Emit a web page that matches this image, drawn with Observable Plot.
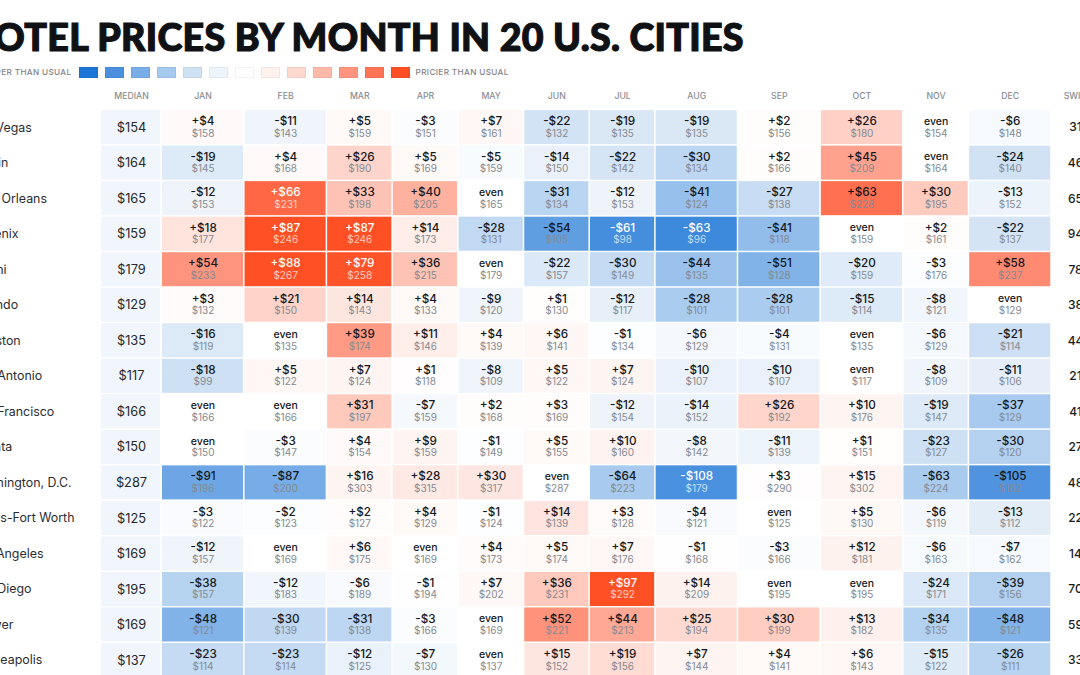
<!DOCTYPE html>
<html><head><meta charset="utf-8">
<script src="https://cdn.jsdelivr.net/npm/d3@7"></script>
<script src="https://cdn.jsdelivr.net/npm/@observablehq/plot@0.6"></script>
<style>
html,body{margin:0;padding:0;background:#fff;overflow:hidden;width:1080px;height:675px}
#title{position:absolute;left:-35px;top:13px;margin:0;font:900 37.6px/48px Lato,sans-serif;letter-spacing:.3px;color:#0f1115;white-space:nowrap;-webkit-text-stroke:1.2px #0f1115}
#legend{position:absolute;left:0;top:67px;height:10.5px;width:1080px}
#legend i{position:absolute;top:0;height:10.5px;width:19px;box-shadow:inset 0 0 0 1px rgba(0,0,0,.05)}
#legend span{position:absolute;top:0;font:500 8.2px/10.5px Inter,sans-serif;letter-spacing:.35px;color:#7f8287;white-space:nowrap}
#chart{position:absolute;left:0;top:85px}
svg{display:block}
</style></head><body>
<h1 id="title"></h1><div id="legend"></div><div id="chart"></div>
<script>
const titleText = "HOTEL PRICES BY MONTH IN 20 U.S. CITIES";
const cheaperLabel = "CHEAPER THAN USUAL";
const pricierLabel = "PRICIER THAN USUAL";
const medianHeader = "MEDIAN";
const swingHeader = "SWING";
const months = ["JAN","FEB","MAR","APR","MAY","JUN","JUL","AUG","SEP","OCT","NOV","DEC"];
const cities = ["Las Vegas","Austin","New Orleans","Phoenix","Miami","Orlando","Houston","San Antonio","San Francisco","Atlanta","Washington, D.C.","Dallas-Fort Worth","Los Angeles","San Diego","Denver","Minneapolis"];
const medians = [154,164,165,159,179,129,135,117,166,150,287,125,169,195,169,137];
const swings = [31,46,65,94,78,38,44,21,41,27,48,22,14,70,59,33];
const lasVegas = [158,143,159,151,161,132,135,135,156,180,154,148];
const austin = [145,168,190,169,159,150,142,134,166,209,164,140];
const newOrleans = [153,231,198,205,165,134,153,124,138,228,195,152];
const phoenix = [177,246,246,173,131,105,98,96,118,159,161,137];
const miami = [233,267,258,215,179,157,149,135,128,159,176,237];
const orlando = [132,150,143,133,120,130,117,101,101,114,121,129];
const houston = [119,135,174,146,139,141,134,129,131,135,129,114];
const sanAntonio = [99,122,124,118,109,122,124,107,107,117,109,106];
const sanFrancisco = [166,166,197,159,168,169,154,152,192,176,147,129];
const atlanta = [150,147,154,159,149,155,160,142,139,151,127,120];
const washington = [196,200,303,315,317,287,223,179,290,302,224,182];
const dallas = [122,123,127,129,124,139,128,121,125,130,119,112];
const losAngeles = [157,169,175,169,173,174,176,168,166,181,163,162];
const sanDiego = [157,183,189,194,202,231,292,209,195,195,171,156];
const denver = [121,139,138,166,169,221,213,194,199,182,135,121];
const minneapolis = [114,114,125,130,137,152,156,144,141,143,122,111];
const prices = [lasVegas,austin,newOrleans,phoenix,miami,orlando,houston,sanAntonio,sanFrancisco,atlanta,washington,dallas,losAngeles,sanDiego,denver,minneapolis];

// colour key: share above or below the median, and the 13 swatches
const keyStep = 0.075;
const keySteps = d3.range(-6,7).map(i => i*keyStep);
const keyColors = ["#1b76d8","#4a90de","#78ade7","#a6c9ee","#cfe1f4","#eef4fb","#ffffff","#fef1ee","#ffd8cf","#ffb9a9","#ff957f","#ff7356","#ff4f24"];

// table layout: column widths in page units
const wide = 82.6, narrow = 65.7, gap = 1.5;
const colWidths = [wide,wide,narrow,narrow,narrow,narrow,narrow,wide,wide,wide,narrow,wide];
const tableLeft = 161.2, medianLeft = 101, medianRight = 160.2, medianCentre = 131, swingCentre = 1081, swingHeadCentre = 1078, labelLeft = -29;
let edge = tableLeft;
const colEdges = colWidths.map(w => { const e = [edge, edge + w]; edge += w; return e; });

const cells = cities.flatMap((city,r) => months.map((m,c) => {
  const price = prices[r][c], delta = price - medians[r], pct = delta / medians[r];
  return {city, month:m, price, delta, pct,
    x1: colEdges[c][0] + gap/2, x2: colEdges[c][1] - gap/2, xc: (colEdges[c][0]+colEdges[c][1])/2,
    label: delta === 0 ? "even" : (delta > 0 ? "+$" : "-$") + Math.abs(delta),
    light: pct < -0.37 || pct > 0.39};
}));
const rows = cities.map((city,r) => ({city, median:medians[r], swing:swings[r]}));
const heads = [...months.map((m,c) => ({m, xc: cells[c].xc})), {m:medianHeader, xc:medianCentre}, {m:swingHeader, xc:swingHeadCentre}];

document.getElementById("title").textContent = titleText;
const legend = document.getElementById("legend");
const left = document.createElement("span");
left.textContent = cheaperLabel; left.style.right = (1080-71.5)+"px"; legend.append(left);
keyColors.forEach((col,i) => { const s = document.createElement("i"); s.style.left = (79+i*26)+"px"; s.style.background = col; legend.append(s); });
const right = document.createElement("span");
right.textContent = pricierLabel; right.style.left = "415.6px"; legend.append(right);

const rowStep = 35.62, rowsTop = 23.6, svgHeight = 590;
const fontNum = "Inter, sans-serif";

const chart = Plot.plot({
  width:1080, height:svgHeight, margin:0,
  style:{background:"transparent", overflow:"hidden"},
  x:{type:"linear", domain:[0,1080], range:[0,1080], axis:null},
  y:{type:"band", domain:cities, range:[rowsTop, rowsTop + rowStep*cities.length], padding:0.042, round:false, axis:null},
  color:{type:"linear", domain:keySteps, range:keyColors, clamp:true, interpolate:"rgb"},
  marks:[
    Plot.text(heads,{x:"xc", frameAnchor:"top", dy:11, lineAnchor:"middle", text:"m", fontFamily:fontNum, fontSize:8.7, fontWeight:500, letterSpacing:.75, fill:"#8a8d92"}),
    Plot.rect(rows,{x1:()=>medianLeft, x2:()=>medianRight, y:"city", fill:"#f1f5fc"}),
    Plot.rect(cells,{x1:"x1", x2:"x2", y:"city", fill:"pct"}),
    Plot.text(rows,{x:()=>labelLeft, y:"city", text:"city", textAnchor:"start", fontFamily:fontNum, fontSize:12.4, fill:"#2a2d33"}),
    Plot.text(rows,{x:()=>medianCentre, y:"city", text:d=>"$"+d.median, fontFamily:fontNum, fontSize:12.8, fill:"#24272d", letterSpacing:0.35}),
    Plot.text(rows,{x:()=>swingCentre, y:"city", text:d=>d.swing+"%", fontFamily:fontNum, fontSize:12, fontWeight:500, fill:"#1a1c20"}),
    Plot.text(cells,{x:"xc", y:"city", text:"label", dy:-6.2, fontFamily:fontNum, fontSize:d=>d.delta===0?10.5:11.7, fontWeight:500, fill:d=>d.light?"#fff":"#14171c"}),
    Plot.text(cells,{x:"xc", y:"city", text:d=>"$"+d.price, dy:5.8, fontFamily:fontNum, fontSize:10, letterSpacing:0.4, fill:d=>d.light?"rgba(255,255,255,.72)":"#858a92"})
  ]
});
document.getElementById("chart").append(chart);
</script>
</body></html>
